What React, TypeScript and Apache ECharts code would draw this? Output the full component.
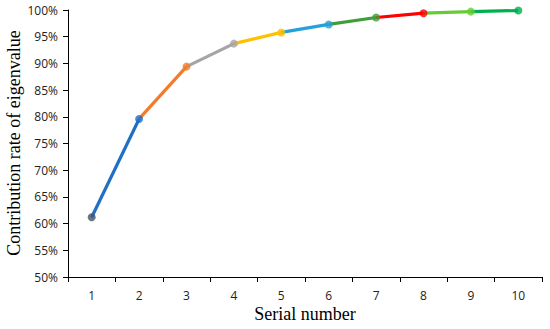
import React, { useEffect, useRef } from "react";
import * as echarts from "echarts";

const categories = ["1", "2", "3", "4", "5", "6", "7", "8", "9", "10"];
const values = [61.2, 79.6, 89.4, 93.7, 95.8, 97.3, 98.6, 99.4, 99.7, 99.9];
const pointColors = ["#44546A", "#1F6FC5", "#F47B2A", "#A5A5A5", "#FFC000", "#24A0DA", "#3E9E3A", "#FF0000", "#66CC33", "#00B050"];
const yTicks = [50, 55, 60, 65, 70, 75, 80, 85, 90, 95, 100];

export default function App() {
  const ref = useRef<HTMLDivElement>(null);
  useEffect(() => {
    const chart = echarts.init(ref.current!, null, { renderer: "svg" });
    const segSeries = values.slice(1).map((v, idx) => {
      const i = idx + 1;
      const data = values.map((val, j) => (j === i - 1 || j === i ? val : null));
      return {
        type: "line",
        data,
        showSymbol: false,
        symbol: "none",
        connectNulls: false,
        lineStyle: { color: pointColors[i], width: 3.2 },
        z: 2,
      };
    });
    chart.setOption({
      animation: false,
      grid: { left: 68, right: 8, top: 10, bottom: 52 },
      xAxis: {
        type: "category",
        data: categories,
        boundaryGap: true,
        axisLine: { show: true, lineStyle: { color: "#000", width: 1 } },
        axisTick: { show: true, inside: false, length: 5, lineStyle: { color: "#000" } },
        axisLabel: { color: "#222", fontFamily: "Open Sans", fontSize: 12, margin: 12 },
        splitLine: { show: false },
      },
      yAxis: {
        type: "value",
        min: yTicks[0],
        max: yTicks[yTicks.length - 1],
        interval: 5,
        axisLine: { show: true, lineStyle: { color: "#000", width: 1 } },
        axisTick: { show: true, inside: false, length: 5, lineStyle: { color: "#000" } },
        axisLabel: { color: "#222", fontFamily: "Open Sans", fontSize: 12, margin: 10, formatter: "{value}%" },
        splitLine: { show: false },
      },
      graphic: [
        {
          type: "text",
          x: 14,
          y: 143,
          rotation: Math.PI / 2,
          style: {
            text: "Contribution rate of eigenvalue",
            font: "18px 'Liberation Serif'",
            fill: "#000",
            align: "center",
            verticalAlign: "middle",
          },
        },
        {
          type: "text",
          x: 305,
          y: 314,
          style: {
            text: "Serial number",
            font: "18px 'Liberation Serif'",
            fill: "#000",
            align: "center",
            verticalAlign: "middle",
          },
        },
      ],
      series: [
        ...segSeries,
        {
          type: "scatter",
          data: values.map((v, i) => ({ value: v, itemStyle: { color: pointColors[i] } })),
          symbolSize: 8,
          z: 3,
        },
      ],
    });
    return () => chart.dispose();
  }, []);
  return <div ref={ref} style={{ width: 550, height: 329, position: "absolute", left: 0, top: 0 }} />;
}
